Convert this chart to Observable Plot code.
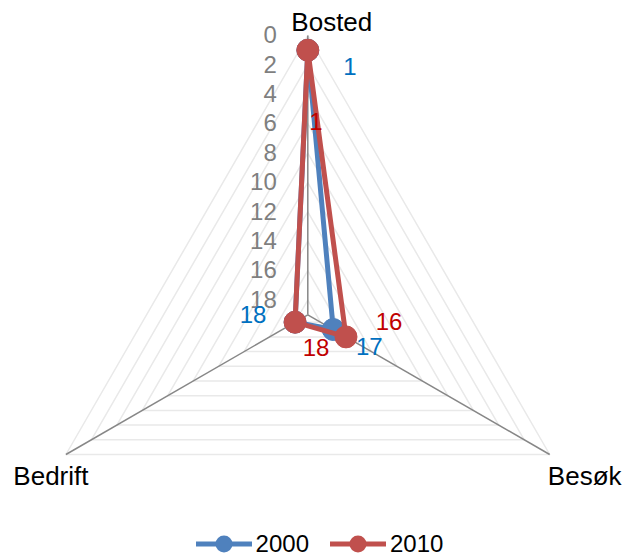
<!DOCTYPE html>
<html>
<head>
<meta charset="utf-8">
<script src="https://cdn.jsdelivr.net/npm/d3@7"></script>
<script src="https://cdn.jsdelivr.net/npm/@observablehq/plot@0.6"></script>
<style>
  body { margin: 0; background: #fff; font-family: "Liberation Sans", Arial, sans-serif; }
  #chart svg { display: block; }
  #legend { display: flex; justify-content: center; align-items: center; height: 24px; padding-top: 12px; padding-left: 15px; font-size: 24px; color: #000; }
  .item { display: flex; align-items: center; }
  .item span { margin-left: 4px; }
</style>
</head>
<body>
<div id="chart"></div>
<div id="legend"></div>
<script>
// ---- data ----
const categories = ["Bosted", "Besøk", "Bedrift"];
const seriesNames = ["2000", "2010"];
const values2000 = [1, 17, 18];
const values2010 = [1, 16, 18];
const tickValues = [0, 2, 4, 6, 8, 10, 12, 14, 16, 18];
const axisMax = 19;

// ---- styles ----
const colors = {"2000": "#4F81BD", "2010": "#C0504D"};
const labelColors = {"2000": "#0070C0", "2010": "#C00000"};
const labelOffsets = {
  "2000": [[42, 17], [36, 18], [-42, -7]],
  "2010": [[8, 72], [43, -15], [21, 26]]
};
const catOffsets = [[24, -12.5], [35, 22], [-15, 22]];

// polar helpers (reversed radial axis: 0 at rim, axisMax at centre)
const rf = v => (axisMax - v) / axisMax;
const ang = i => i * 2 * Math.PI / categories.length;
const px = (i, v) => rf(v) * Math.sin(ang(i));
const py = (i, v) => rf(v) * Math.cos(ang(i));

const seriesValues = {"2000": values2000, "2010": values2010};
const points = seriesNames.flatMap(s => seriesValues[s].map((v, i) => ({s, i, v, cat: categories[i], x: px(i, v), y: py(i, v)})));

const grid = tickValues.flatMap(t => categories.map((c, i) => ({t, x: px(i, t), y: py(i, t)})));
const spokes = categories.map((c, i) => ({c, i, x: px(i, 0), y: py(i, 0)}));

const marks = [
  Plot.line(grid, {x: "x", y: "y", z: "t", curve: "linear-closed", stroke: "#E9E9E9", strokeWidth: 1.5}),
  Plot.link(spokes, {x1: () => 0, y1: () => 0, x2: "x", y2: "y", stroke: "#878787", strokeWidth: 1.5}),
  Plot.text(tickValues, {x: () => 0, y: t => rf(t), text: t => String(t), textAnchor: "end", dx: -31, fill: "#7F7F7F", fontSize: 24}),
  ...spokes.map((d, i) => Plot.text([d], {x: "x", y: "y", text: "c", dx: catOffsets[i][0], dy: catOffsets[i][1], fill: "#000", fontSize: 26}))
];
for (const s of seriesNames) {
  const pts = points.filter(p => p.s === s);
  marks.push(Plot.line(pts, {x: "x", y: "y", curve: "linear-closed", stroke: colors[s], strokeWidth: 5, strokeLinejoin: "round"}));
  marks.push(Plot.dot(pts, {x: "x", y: "y", r: 11, fill: colors[s], stroke: colors[s], strokeWidth: 1}));
}
for (const s of seriesNames) {
  points.filter(p => p.s === s).forEach((p, k) => {
    marks.push(Plot.text([p], {x: "x", y: "y", text: d => String(d.v), dx: labelOffsets[s][k][0], dy: labelOffsets[s][k][1], fill: labelColors[s], fontSize: 24}));
  });
}

const chart = Plot.plot({
  width: 624,
  height: 520,
  style: {fontFamily: "Liberation Sans, Arial, sans-serif", background: "#fff", overflow: "visible"},
  x: {domain: [-1, 1], range: [28, 586.6], axis: null},
  y: {domain: [-0.5, 1], range: [454, 35], axis: null},
  marks
});
document.getElementById("chart").appendChild(chart);

// legend
const legend = d3.select("#legend");
seriesNames.forEach((s, k) => {
  const item = legend.append("div").attr("class", "item").style("margin-left", k ? "21px" : "0px");
  const svg = item.append("svg").attr("width", 56).attr("height", 20);
  svg.append("line").attr("x1", 0).attr("x2", 56).attr("y1", 10).attr("y2", 10).attr("stroke", colors[s]).attr("stroke-width", 5);
  svg.append("circle").attr("cx", 28).attr("cy", 10).attr("r", 8.5).attr("fill", colors[s]);
  item.append("span").text(s);
});
</script>
</body>
</html>
